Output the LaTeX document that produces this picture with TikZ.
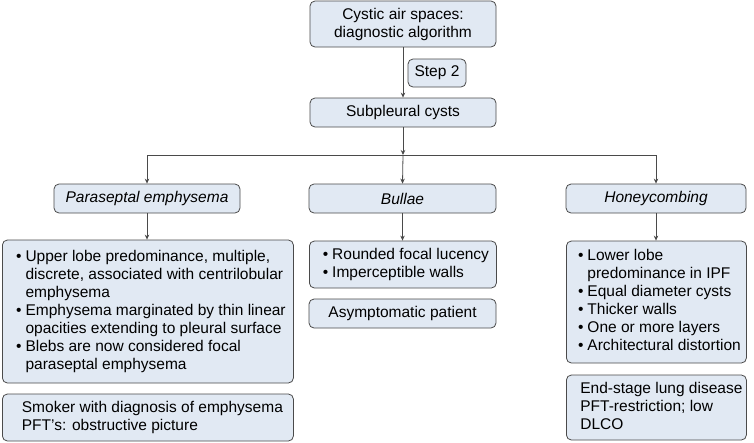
\documentclass[tikz,border=0pt]{standalone}
\usepackage{fontspec}
\setmainfont{Liberation Sans}
\usetikzlibrary{arrows.meta}
\definecolor{boxC}{HTML}{E1E9F3}
\definecolor{lineC}{HTML}{4A4A4A}
\newcommand{\bl}{\textbullet}
\tikzset{
  box/.style={draw=lineC, fill=boxC, rounded corners=5pt, line width=0.8pt, inner sep=0pt,
    font=\fontsize{15.5}{18}\selectfont, text=black},
  conn/.style={draw=lineC, line width=0.8pt},
  arr/.style={conn, -{Stealth[length=5pt,width=4.5pt]}}
}
\begin{document}
\begin{tikzpicture}[x=1pt,y=-1pt]
\useasboundingbox (0,0) rectangle (754,442);
\node[box, minimum width=186pt, minimum height=46pt, align=center] (top) at (403,24) {Cystic air spaces:\\diagnostic algorithm};
\node[box, minimum width=58pt, minimum height=28pt] (step) at (437,73) {Step 2};
\node[box, minimum width=186pt, minimum height=29pt] (sub) at (403,112.5) {Subpleural cysts};
\node[box, minimum width=186pt, minimum height=29pt] (para) at (147,198.5) {\itshape Paraseptal emphysema};
\node[box, minimum width=187pt, minimum height=29pt] (bull) at (402.5,198.5) {\itshape Bullae};
\node[box, minimum width=180pt, minimum height=29pt] (honey) at (656,198.5) {\itshape Honeycombing};
\node[box, minimum width=291pt, minimum height=143pt, anchor=west] (lb) at (2,311.5) {\hspace{6pt}\begin{tabular}{@{}l@{\hspace{4pt}}l@{}}
\bl & Upper lobe predominance, multiple,\\
 & discrete, associated with centrilobular\\
 & emphysema\\
\bl & Emphysema marginated by thin linear\\
 & opacities extending to pleural surface\\
\bl & Blebs are now considered focal\\
 & paraseptal emphysema
\end{tabular}\hspace{2pt}};
\node[box, minimum width=291pt, minimum height=47pt, anchor=west] (smoke) at (2,417.5) {\hspace{9pt}\begin{tabular}{@{}l@{}}
Smoker with diagnosis of emphysema\\
PFT’s: obstructive picture
\end{tabular}\hspace{2pt}};
\node[box, minimum width=187pt, minimum height=47pt, anchor=west] (bb) at (309,264.5) {\hspace{6pt}\begin{tabular}{@{}l@{\hspace{4pt}}l@{}}
\bl & Rounded focal lucency\\
\bl & Imperceptible walls
\end{tabular}\hspace{2pt}};
\node[box, minimum width=187pt, minimum height=29pt] (asym) at (402.5,313.5) {Asymptomatic patient};
\node[box, minimum width=180pt, minimum height=122pt, anchor=west] (hb) at (566,302) {\hspace{6pt}\begin{tabular}{@{}l@{\hspace{4pt}}l@{}}
\bl & Lower lobe\\
 & predominance in IPF\\
\bl & Equal diameter cysts\\
\bl & Thicker walls\\
\bl & One or more layers\\
\bl & Architectural distortion
\end{tabular}\hspace{2pt}};
\node[box, minimum width=180pt, minimum height=65pt, anchor=west] (end) at (566,407.5) {\hspace{10pt}\begin{tabular}{@{}l@{}}
End-stage lung disease\\
PFT-restriction; low\\
DLCO
\end{tabular}\hspace{2pt}};
\coordinate (split) at (403,155);
\draw[arr] (top.south) -- (sub.north);
\draw[arr] (sub.south) -- (split);
\draw[conn] (para.north |- split) -- (honey.north |- split);
\draw[arr] (para.north |- split) -- (para.north);
\draw[arr] (split) -- (bull.north);
\draw[arr] (honey.north |- split) -- (honey.north);
\draw[arr] (para.south) -- (lb.north -| para.south);
\draw[arr] (bull.south) -- (bb.north -| bull.south);
\draw[arr] (honey.south) -- (hb.north -| honey.south);
\end{tikzpicture}
\end{document}
